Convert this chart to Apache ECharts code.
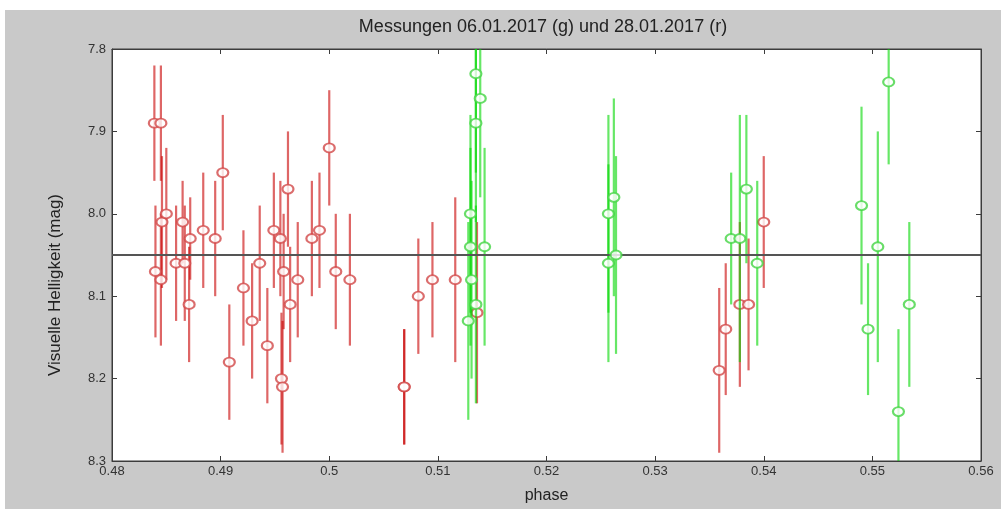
<!DOCTYPE html>
<html>
<head>
<meta charset="utf-8">
<script src="https://cdn.jsdelivr.net/npm/echarts@6/dist/echarts.min.js"></script>
<style>
  html, body { margin: 0; padding: 0; background: #fff; }
  #chart { width: 1001px; height: 511px; }
</style>
</head>
<body>
<div id="chart"></div>
<script>
// Messung 28.01.2017 (rot)
const redPhase = [0.4839, 0.4845, 0.4840, 0.4845, 0.4846, 0.4850, 0.4859, 0.4865, 0.4867, 0.4872,
  0.4871, 0.4884, 0.4895, 0.4902, 0.4908, 0.4921, 0.4929, 0.4936, 0.4943, 0.4949,
  0.4955, 0.4956, 0.4957, 0.4958, 0.4962, 0.4964, 0.4971, 0.4984, 0.4991, 0.5000,
  0.5006, 0.5019, 0.5069, 0.5069, 0.5082, 0.5095, 0.5116, 0.5136,
  0.5359, 0.5365, 0.5378, 0.5386, 0.5400]
const redMag = [7.89, 7.89, 8.07, 8.08, 8.01, 8.00, 8.06, 8.01, 8.06, 8.03,
  8.11, 8.02, 8.03, 7.95, 8.18, 8.09, 8.13, 8.06, 8.16, 8.02,
  8.03, 8.20, 8.21, 8.07, 7.97, 8.11, 8.08, 8.03, 8.02, 7.92,
  8.07, 8.08, 8.21, 8.21, 8.10, 8.08, 8.08, 8.12,
  8.19, 8.14, 8.11, 8.11, 8.01]
const redErr = [0.07, 0.07, 0.08, 0.08, 0.08, 0.08, 0.07, 0.05, 0.07, 0.05,
  0.07, 0.07, 0.07, 0.07, 0.07, 0.07, 0.07, 0.07, 0.07, 0.07,
  0.07, 0.08, 0.08, 0.07, 0.07, 0.07, 0.07, 0.07, 0.07, 0.07,
  0.07, 0.08, 0.07, 0.07, 0.07, 0.07, 0.10, 0.11,
  0.10, 0.08, 0.10, 0.08, 0.08]

// Messung 06.01.2017 (gruen)
const greenPhase = [0.5135, 0.5139, 0.5135, 0.5130, 0.5130, 0.5143, 0.5131, 0.5135, 0.5128,
  0.5257, 0.5262, 0.5264, 0.5257,
  0.5370, 0.5378, 0.5384, 0.5394,
  0.5490, 0.5515, 0.5496, 0.5505, 0.5534, 0.5524]
const greenMag = [7.83, 7.86, 7.89, 8.00, 8.04, 8.04, 8.08, 8.11, 8.13,
  8.00, 7.98, 8.05, 8.06,
  8.03, 8.03, 7.97, 8.06,
  7.99, 7.84, 8.14, 8.04, 8.11, 8.24]
const greenErr = [0.12, 0.12, 0.12, 0.12, 0.12, 0.12, 0.12, 0.12, 0.12,
  0.12, 0.12, 0.12, 0.12,
  0.08, 0.15, 0.09, 0.10,
  0.12, 0.10, 0.08, 0.14, 0.10, 0.10]

const meanMag = 8.05
const xTicks = [0.48, 0.49, 0.5, 0.51, 0.52, 0.53, 0.54, 0.55, 0.56]
const yTicks = ['7.8', '7.9', '8.0', '8.1', '8.2', '8.3']

const chart = echarts.init(document.getElementById('chart'))

// Fehlerbalken als custom series
const errorBars = (phase, mag, err, color, z) => ({
  type: 'custom',
  z: z,
  clip: true,
  data: phase.map((p, i) => [p, mag[i] - err[i], mag[i] + err[i]]),
  renderItem: (params, api) => {
    const top = api.coord([api.value(0), api.value(1)])
    const bottom = api.coord([api.value(0), api.value(2)])
    return {
      type: 'line',
      shape: { x1: top[0], y1: top[1], x2: bottom[0], y2: bottom[1] },
      style: { stroke: color, lineWidth: 2.2, opacity: 0.6 }
    }
  },
  silent: true
})

// offene Kreise, weiss gefuellt
const markers = (phase, mag, color, z) => ({
  type: 'scatter',
  z: z,
  symbol: 'emptyCircle',
  symbolSize: [11, 9],
  itemStyle: { color: color, borderWidth: 1.6 },
  data: phase.map((p, i) => [p, mag[i]]),
  silent: true
})

const axisColor = '#3c3c3c'
const labelFont = { fontFamily: 'Liberation Sans', fontSize: 13, color: '#333' }

const option = {
  animation: false,
  backgroundColor: '#fff',
  graphic: [
    { type: 'rect', z: -10, shape: { x: 5, y: 10, width: 996, height: 499 }, style: { fill: '#c9c9c9' } },
    { type: 'text', x: 543, y: 27, style: { text: 'Messungen 06.01.2017 (g) und 28.01.2017 (r)', fontFamily: 'Liberation Sans', fontSize: 18, fill: '#222', align: 'center', verticalAlign: 'middle' } },
    { type: 'text', x: 55, y: 285, rotation: Math.PI / 2, style: { text: 'Visuelle Helligkeit (mag)', fontFamily: 'Liberation Sans', fontSize: 17, fill: '#222', align: 'center', verticalAlign: 'middle' } }
  ],
  grid: { left: 112, top: 49, width: 869, height: 412, show: true, backgroundColor: '#fff', borderColor: axisColor, borderWidth: 1 },
  xAxis: [
    {
      type: 'value', min: 0.48, max: 0.56, interval: 0.01,
      name: 'phase', nameLocation: 'middle', nameGap: 27,
      nameTextStyle: { fontFamily: 'Liberation Sans', fontSize: 16, color: '#222' },
      axisLine: { lineStyle: { color: axisColor } },
      axisTick: { inside: true, length: 5, lineStyle: { color: axisColor } },
      axisLabel: Object.assign({ margin: 4, formatter: v => String(xTicks[Math.round((v - 0.48) * 100)]) }, labelFont),
      splitLine: { show: false }
    },
    {
      type: 'value', position: 'top', min: 0.48, max: 0.56, interval: 0.01,
      axisLine: { lineStyle: { color: axisColor } },
      axisTick: { inside: true, length: 5, lineStyle: { color: axisColor } },
      axisLabel: { show: false }, splitLine: { show: false }
    }
  ],
  yAxis: [
    {
      type: 'value', inverse: true, min: 7.8, max: 8.3, interval: 0.1,
      axisLine: { show: true, lineStyle: { color: axisColor } },
      axisTick: { show: true, inside: true, length: 5, lineStyle: { color: axisColor } },
      axisLabel: Object.assign({ margin: 6, formatter: v => yTicks[Math.round((v - 7.8) * 10)] }, labelFont),
      splitLine: { show: false }
    },
    {
      type: 'value', position: 'right', inverse: true, min: 7.8, max: 8.3, interval: 0.1,
      axisLine: { show: true, lineStyle: { color: axisColor } },
      axisTick: { show: true, inside: true, length: 5, lineStyle: { color: axisColor } },
      axisLabel: { show: false }, splitLine: { show: false }
    }
  ],
  series: [
    errorBars(redPhase, redMag, redErr, 'rgb(200,0,0)', 2),
    markers(redPhase, redMag, '#d24848', 3),
    errorBars(greenPhase, greenMag, greenErr, 'rgb(0,215,0)', 4),
    markers(greenPhase, greenMag, '#44d444', 5),
    {
      type: 'line', z: 6, data: [], silent: true,
      markLine: {
        symbol: 'none', silent: true, label: { show: false },
        lineStyle: { color: '#555', width: 2, type: 'solid' },
        data: [{ yAxis: meanMag }]
      }
    }
  ]
}

chart.setOption(option)
</script>
</body>
</html>
